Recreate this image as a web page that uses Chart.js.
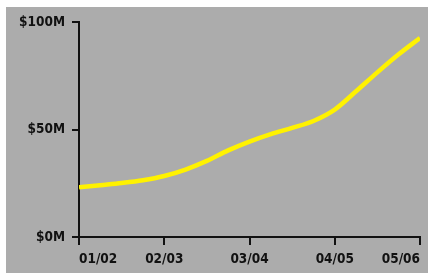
<!DOCTYPE html>
<html>
<head>
<meta charset="utf-8">
<script src="https://cdn.jsdelivr.net/npm/chart.js@4"></script>
<style>
    html, body { margin: 0; padding: 0; background: #ffffff; }
    #wrap { position: absolute; left: 6px; top: 7px; width: 422px; height: 266px; background: #acacac; }
</style>
</head>
<body>
<div id="wrap"><canvas id="chart"></canvas></div>
<script>
// season labels (every 4th quarter)
const seasons = ['01/02', '02/03', '03/04', '04/05', '05/06'];
// quarterly values, $M
const values = [23.1, 24.1, 25.1, 26.4, 28.4, 31.4, 35.4, 40.3, 44.4, 47.9, 50.8, 54.0, 59.3, 67.8, 76.6, 85.0, 92.6];
const yTicks = [0, 50, 100];

const ink = '#111111';
const font = { family: "'DejaVu Sans Condensed', 'Liberation Sans', sans-serif", size: 13.5, weight: 'bold' };

let points = values.map(function (v, i) {
    return { x: i, y: v };
});

let ctx = document.getElementById('chart').getContext('2d');

new Chart(ctx, {
    type: 'line',
    data: {
        datasets: [{
            data: points,
            borderColor: '#fff200',
            borderWidth: 4.5,
            pointRadius: 0,
            cubicInterpolationMode: 'monotone',
            fill: false
        }]
    },
    options: {
        responsive: true,
        maintainAspectRatio: false,
        animation: false,
        layout: { padding: { top: 14, right: 8, left: 0, bottom: 0 } },
        plugins: {
            legend: { display: false },
            tooltip: { enabled: false }
        },
        scales: {
            x: {
                type: 'linear',
                min: 0,
                max: (seasons.length - 1) * 4,
                afterFit: function (scale) { scale.height = 36; },
                afterBuildTicks: function (scale) {
                    scale.ticks = seasons.map(function (s, i) { return { value: i * 4 }; });
                },
                ticks: {
                    autoSkip: false,
                    maxRotation: 0,
                    align: 'inner',
                    padding: 6,
                    color: ink,
                    font: font,
                    callback: function (v) { return seasons[v / 4]; }
                },
                grid: {
                    drawOnChartArea: false,
                    drawTicks: true,
                    tickLength: 8,
                    tickColor: ink,
                    lineWidth: 2
                },
                border: { display: true, color: ink, width: 2 }
            },
            y: {
                min: 0,
                max: 100,
                afterFit: function (scale) { scale.width = 73; },
                afterBuildTicks: function (scale) {
                    scale.ticks = yTicks.map(function (v) { return { value: v }; });
                },
                ticks: {
                    padding: 7,
                    color: ink,
                    font: font,
                    callback: function (v) { return '$' + v + 'M'; }
                },
                grid: {
                    drawOnChartArea: false,
                    drawTicks: true,
                    tickLength: 7,
                    tickColor: ink,
                    lineWidth: 2
                },
                border: { display: true, color: ink, width: 2 }
            }
        }
    }
});
</script>
</body>
</html>
